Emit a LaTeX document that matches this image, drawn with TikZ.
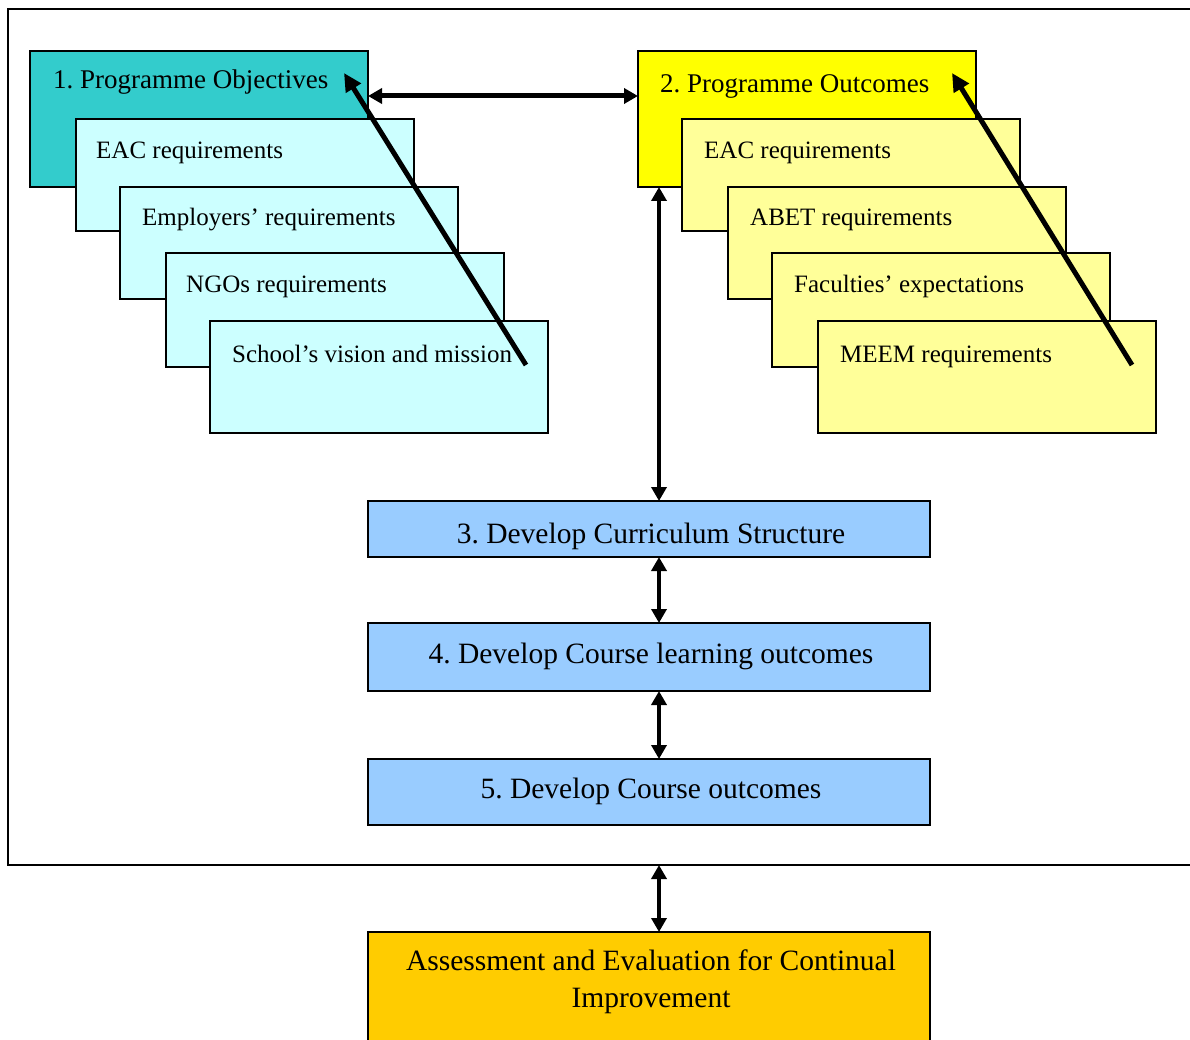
\documentclass[tikz,border=0pt]{standalone}
\usepackage{fontspec}
\setmainfont{Liberation Serif}
\usetikzlibrary{arrows.meta,calc}
\definecolor{teal1}{HTML}{33CCCC}
\definecolor{cyan1}{HTML}{CCFFFF}
\definecolor{yel1}{HTML}{FFFF00}
\definecolor{yel2}{HTML}{FFFF99}
\definecolor{blue1}{HTML}{99CCFF}
\definecolor{orange1}{HTML}{FFCC00}
\frenchspacing
\begin{document}
\begin{tikzpicture}[x=1pt,y=-1pt,
  box/.style={draw=black,line width=2pt,anchor=north west,inner sep=0pt,outer sep=0pt},
  reqbox/.style={box,minimum width=338pt,minimum height=112pt},
  headbox/.style={box,minimum width=338pt,minimum height=136pt},
  stepbox/.style={box,minimum width=562pt},
  small/.style={anchor=base west,inner sep=0pt,font=\fontsize{25}{30}\selectfont},
  title/.style={anchor=base west,inner sep=0pt,font=\fontsize{27}{32}\selectfont},
  main/.style={anchor=base,inner sep=0pt,font=\fontsize{29.5}{36}\selectfont},
  dbl/.style={line width=4pt,{Triangle[length=14pt,width=15pt]}-{Triangle[length=14pt,width=15pt]}},
  hdbl/.style={line width=5pt,{Triangle[length=14pt,width=15pt]}-{Triangle[length=14pt,width=15pt]}},
  diag/.style={line width=5pt,-{Triangle[length=18pt,width=17pt]}},
]
\clip (0,0) rectangle (1190,1040);
\fill[white] (0,0) rectangle (1190,1040);
% outer frame
\node[box,minimum width=1210pt,minimum height=856pt] (frame) at (8,9) {};

% left stack
\node[headbox,fill=teal1] (b1) at (30,51) {};
\node[title] (t1) at (53,89) {1. Programme Objectives};
\node[reqbox,fill=cyan1] (l1) at (76,119) {};
\node[small] (tl1) at (96,159) {EAC requirements};
\node[reqbox,fill=cyan1] (l2) at (120,187) {};
\node[small] (tl2) at (142,226) {Employers’ requirements};
\node[reqbox,fill=cyan1,minimum height=114pt] (l3) at (166,253) {};
\node[small] (tl3) at (186,293) {NGOs requirements};
\node[reqbox,fill=cyan1] (l4) at (210,321) {};
\node[small] (tl4) at (232,362) {School’s vision and mission};

% right stack
\node[headbox,fill=yel1] (b2) at (638,51) {};
\node[title] (t2) at (660,93) {2. Programme Outcomes};
\node[reqbox,fill=yel2] (r1) at (682,119) {};
\node[small] (tr1) at (704,159) {EAC requirements};
\node[reqbox,fill=yel2] (r2) at (728,187) {};
\node[small] (tr2) at (750,226) {ABET requirements};
\node[reqbox,fill=yel2,minimum height=114pt] (r3) at (772,253) {};
\node[small] (tr3) at (794,293) {Faculties’ expectations};
\node[reqbox,fill=yel2] (r4) at (818,321) {};
\node[small] (tr4) at (840,362) {MEEM requirements};

% diagonal arrows
\coordinate (ltail) at (526,365);
\coordinate (ltip) at (344,73);
\coordinate (rtail) at (1132,365);
\coordinate (rtip) at (952,73);
\draw[diag] (ltail) -- (ltip);
\draw[diag] (rtail) -- (rtip);

% horizontal arrow
\draw[hdbl] ($(b1.north east)+(0,45)$) -- ($(b2.north west)+(0,45)$);

% steps
\node[stepbox,fill=blue1,minimum height=56pt] (s3) at (368,501) {};
\node[main] (ts3) at (651,543) {3. Develop Curriculum Structure};
\node[stepbox,fill=blue1,minimum height=68pt] (s4) at (368,623) {};
\node[main] (ts4) at (651,663) {4. Develop Course learning outcomes};
\node[stepbox,fill=blue1,minimum height=66pt] (s5) at (368,759) {};
\node[main] (ts5) at (651,798) {5. Develop Course outcomes};
\node[stepbox,fill=orange1,minimum height=130pt] (s6) at (368,932) {};
\node[main] (ts6) at (651,970) {Assessment and Evaluation for Continual};
\node[main] (ts6b) at (651,1007) {Improvement};

% vertical arrows
\coordinate (cx) at (659,0);
\draw[dbl] (b2.south -| cx) -- (s3.north -| cx);
\draw[dbl] (s3.south -| cx) -- (s4.north -| cx);
\draw[dbl] (s4.south -| cx) -- (s5.north -| cx);
\draw[dbl] (frame.south -| cx) -- (s6.north -| cx);
\end{tikzpicture}
\end{document}
